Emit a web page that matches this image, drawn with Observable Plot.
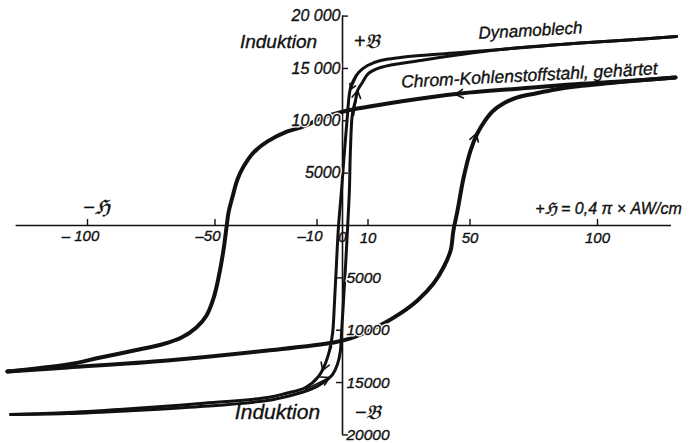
<!DOCTYPE html>
<html><head><meta charset="utf-8">
<script src="https://cdn.jsdelivr.net/npm/d3@7"></script>
<script src="https://cdn.jsdelivr.net/npm/@observablehq/plot@0.6"></script>
<style>body{margin:0;background:#fff} svg{display:block}</style>
</head><body><div id="chart"></div>
<script>
// Feldstärke H (0,4π·AW/cm) and Induktion B (Gauss)
const dynamoDescending = [[131,18050],[109,17670],[85.5,17290],[62,16810],[46.3,16520],[30.6,16240],[22.7,16050],[14.9,15760],[9.8,15280],[6.3,14610],[4.3,13850],[3.1,13090],[2.4,11940],[2.0,10700],[0.8,7160],[-0.4,3340],[-1.6,-190],[-2.4,-3820],[-3.1,-7160],[-3.9,-10320],[-5.1,-11940],[-6.7,-13180],[-9.4,-14420],[-14.5,-15470],[-22.4,-16050],[-29.4,-16430],[-55.7,-17000],[-82,-17480],[-107.8,-17860],[-130.2,-18050]];
const dynamoAscending = [[-130.2,-18050],[-107.8,-17960],[-82,-17670],[-55.7,-17290],[-29.4,-16710],[-20.4,-16240],[-12.5,-15660],[-7.5,-14990],[-3.9,-14230],[-2.0,-13280],[-0.8,-11940],[-0.4,-10320],[0.4,-7160],[1.2,-3820],[2.0,-190],[2.7,3340],[3.1,7160],[3.9,10700],[5.1,11940],[5.9,12890],[7.8,13660],[10.2,14520],[14.9,15090],[30.6,15760],[46.3,16330],[62,16810],[85.5,17290],[109,17670],[131,18050]];
const chromDescending = [[130.6,14140],[109,13750],[89.4,13470],[69.8,13090],[46.3,12610],[22.7,11840],[0.4,10890],[-8.6,10220],[-15.3,9460],[-21.6,8980],[-29.4,8030],[-34.9,6970],[-38.8,5630],[-41.2,4390],[-43.1,2770],[-44.7,1240],[-45.5,-190],[-46.7,-2390],[-48.6,-4970],[-50.6,-6970],[-53.3,-8590],[-57.3,-9740],[-63.1,-10700],[-70.9,-11370],[-78,-11750],[-94.9,-12610],[-107.8,-13280],[-131.4,-13940]];
const chromAscending = [[-131.4,-13940],[-107.8,-13560],[-68.6,-12890],[-29.4,-11940],[-3.5,-11170],[3.1,-10790],[16.1,-9360],[22.7,-8400],[29.4,-7160],[35.7,-5540],[39.6,-4010],[42.4,-2390],[43.5,-480],[45.1,1430],[47.5,4580],[50.2,7160],[52.9,8790],[55.7,9940],[58.8,10890],[63.1,11650],[68.6,12230],[75.7,12610],[83.5,12990],[91.4,13280],[109,13700],[130.6,14140]];
// direction arrows on the loops: [H tail, B tail, H tip, B tip]
const arrows = [[54.5,12799,44.3,12512],[49.4,6399,52.5,8787],[6.3,14613,3.1,12989],[4.3,10506,5.9,12894],[-4.3,-11557,-7.8,-13849],[-14.5,-15664,-5.1,-14518]];

const xTicks = [-100, -50, -10, 10, 50, 100];
const xTickLabels = ["– 100", "–50", "–10", "10", "50", "100"];
const yTicksUpper = [20000, 15000, 10000, 5000];
const yTickLabelsUpper = ["20 000", "15 000", "10 000", "5000"];
const yTicksLower = [-5000, -10000, -15000, -20000];
const yTickLabelsLower = ["5000", "10000", "15000", "20000"];
const xAxisExtent = [-128, 129];
const yAxisExtent = [-20000, 20000];

const titles = [
  {x: -25.1, y: 17570, text: "Induktion", size: 19},
  {x: -25.5, y: -17860, text: "Induktion", size: 21},
  {x: 9.4, y: 17570, text: "+𝔅", size: 20},
  {x: 9.8, y: -17860, text: "−𝔅", size: 20},
  {x: -96.5, y: 1720, text: "−ℌ", size: 20},
  {x: 104.3, y: 1620, text: "+ℌ = 0,4 π × AW/cm", size: 16}
];
const curveLabels = [
  {x: 73.7, y: 18620, text: "Dynamoblech", size: 17},
  {x: 73.3, y: 14330, text: "Chrom-Kohlenstoffstahl, gehärtet", size: 17.5}
];

const W = 689, H = 443;
const x0 = 342, y0 = 225, kx = 2.55, ky = 0.01047;
const font = "Liberation Sans, Arial, sans-serif";
const ink = "#111";
const tickLenB = 6 / ky, tickLenH = 6 / kx;
const txt = {fontStyle: "italic", fill: ink, stroke: ink, strokeWidth: 0.35};

const chart = Plot.plot({
  width: W, height: H, margin: 0,
  x: {domain: [-x0 / kx, (W - x0) / kx], axis: null},
  y: {domain: [-(H - y0) / ky, y0 / ky], axis: null},
  style: {fontFamily: font, background: "#fff"},
  marks: [
    Plot.ruleY([0], {x1: xAxisExtent[0], x2: xAxisExtent[1], stroke: ink, strokeWidth: 1.6}),
    Plot.ruleX([0], {y1: yAxisExtent[0], y2: yAxisExtent[1], stroke: ink, strokeWidth: 1.6}),
    Plot.ruleX(xTicks, {x: d => d, y1: 0, y2: tickLenB, stroke: ink, strokeWidth: 1.4}),
    Plot.ruleY(yTicksUpper, {y: d => d, x1: 0, x2: tickLenH, stroke: ink, strokeWidth: 1.4}),
    Plot.ruleY(yTicksLower.slice(0, 3), {y: d => d, x1: -tickLenH, x2: 0, stroke: ink, strokeWidth: 1.4}),
    Plot.ruleY(yTicksLower.slice(3), {y: d => d, x1: 0, x2: tickLenH, stroke: ink, strokeWidth: 1.4}),
    Plot.line(dynamoDescending, {x: d => d[0], y: d => d[1], curve: "catmull-rom", stroke: ink, strokeWidth: 3}),
    Plot.line(dynamoAscending, {x: d => d[0], y: d => d[1], curve: "catmull-rom", stroke: ink, strokeWidth: 3}),
    Plot.line(chromDescending, {x: d => d[0], y: d => d[1], curve: "catmull-rom", stroke: ink, strokeWidth: 4}),
    Plot.line(chromAscending, {x: d => d[0], y: d => d[1], curve: "catmull-rom", stroke: ink, strokeWidth: 4}),
    Plot.arrow(arrows, {x1: d => d[0], y1: d => d[1], x2: d => d[2], y2: d => d[3], stroke: ink, strokeWidth: 1.6, headLength: 11, headAngle: 60}),
    Plot.text(xTicks.filter(d => d < 0), {x: d => d, y: 0, text: d => xTickLabels[xTicks.indexOf(d)], dy: 11, dx: -7, fontSize: 15, ...txt}),
    Plot.text(xTicks.filter(d => d > 0), {x: d => d, y: 0, text: d => xTickLabels[xTicks.indexOf(d)], dy: 13, fontSize: 15, ...txt}),
    Plot.text(["0"], {x: 0, y: 0, text: d => d, dy: 12, fontSize: 15, ...txt}),
    Plot.text(yTicksUpper, {x: 0, y: d => d, text: (d, i) => yTickLabelsUpper[i], textAnchor: "end", dx: -2, fontSize: 16, fontStyle: "italic", fill: "#fff", stroke: "#fff", strokeWidth: 3}),
    Plot.text(yTicksUpper, {x: 0, y: d => d, text: (d, i) => yTickLabelsUpper[i], textAnchor: "end", dx: -2, fontSize: 16, ...txt}),
    Plot.text(yTicksLower, {x: 0, y: d => d, text: (d, i) => yTickLabelsLower[i], textAnchor: "start", dx: 4, fontSize: 15.5, fontStyle: "italic", fill: "#fff", stroke: "#fff", strokeWidth: 3}),
    Plot.text(yTicksLower, {x: 0, y: d => d, text: (d, i) => yTickLabelsLower[i], textAnchor: "start", dx: 4, fontSize: 15.5, ...txt}),
    ...titles.map(t => Plot.text([t], {x: "x", y: "y", text: "text", fontSize: t.size, ...txt})),
    ...curveLabels.map(t => Plot.text([t], {x: "x", y: "y", text: "text", fontSize: t.size, rotate: -3, ...txt}))
  ]
});
document.getElementById("chart").appendChild(chart);
</script>
</body></html>
